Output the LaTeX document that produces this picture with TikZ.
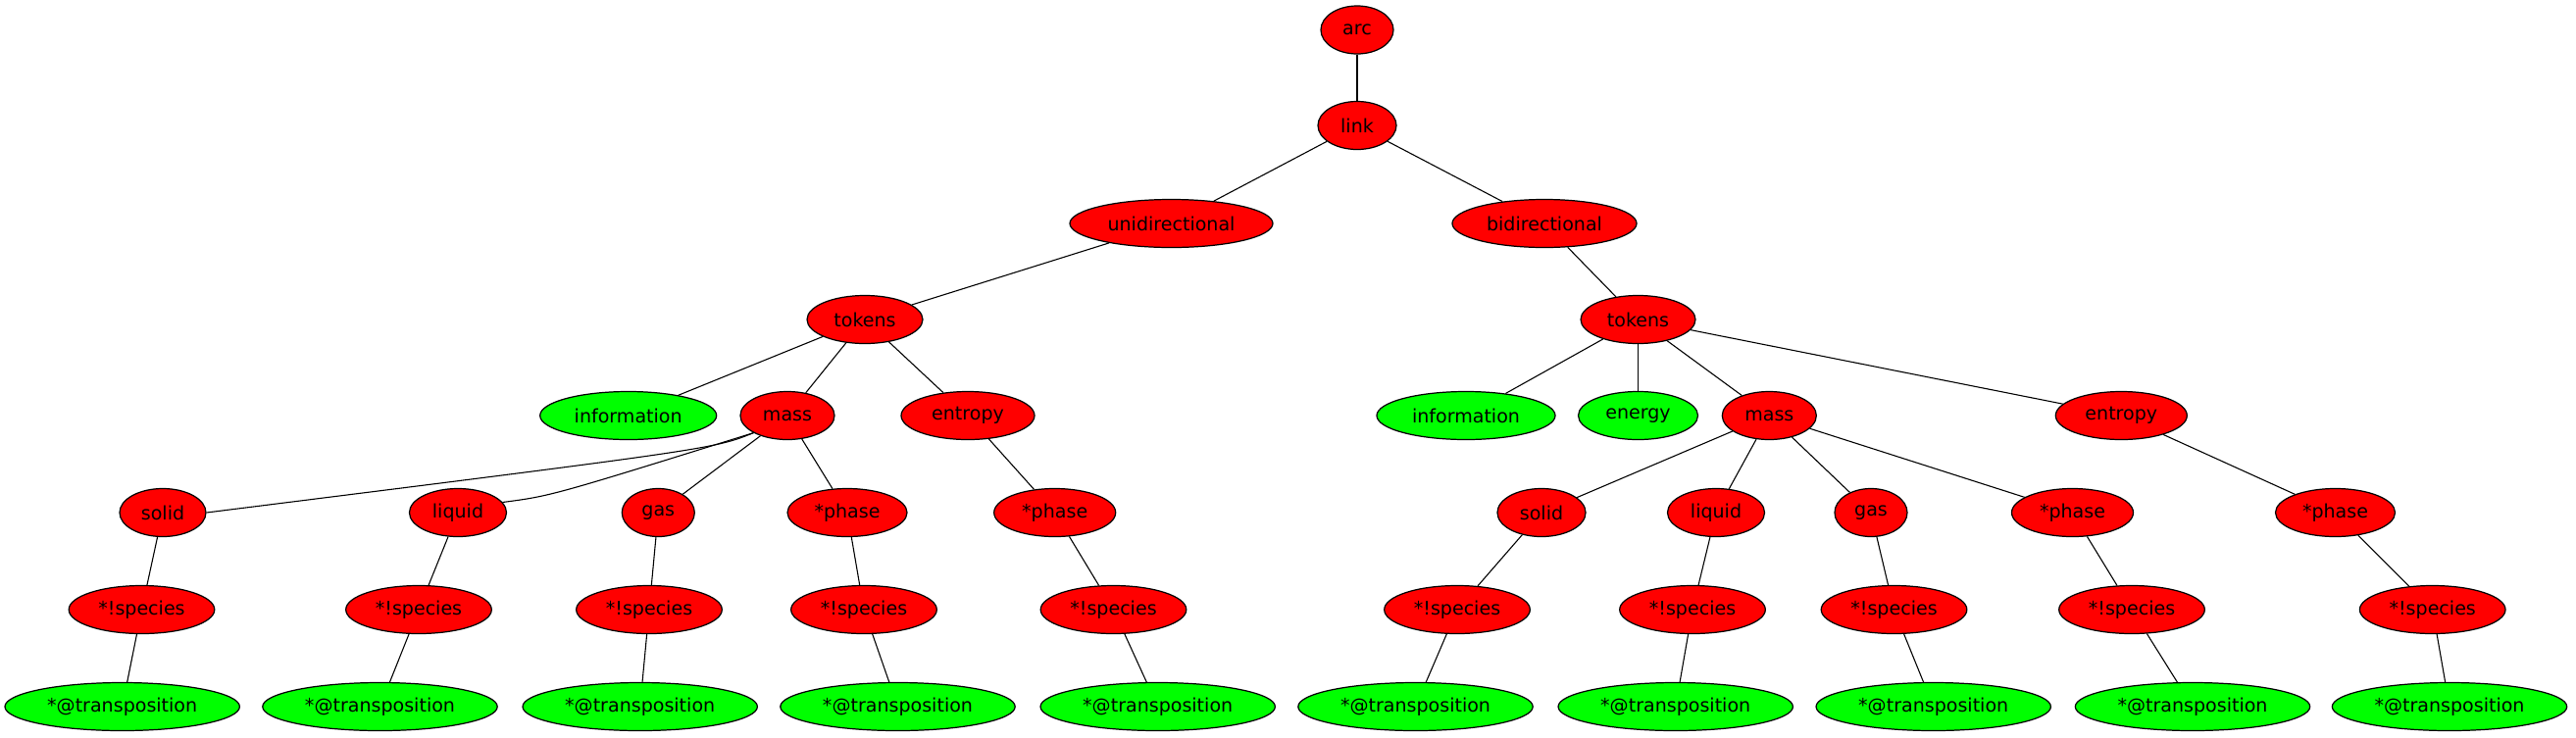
\documentclass[tikz,border=0pt]{standalone}
\usepackage{fontspec}
\setmainfont{DejaVu Sans}
\usetikzlibrary{shapes.geometric}
\def\pxu{0.7348pt}
\definecolor{nred}{HTML}{FF0000}
\definecolor{ngreen}{HTML}{00FF00}
\tikzset{
  gnode/.style={ellipse, draw=black, line width=0.9pt, inner sep=0pt,
    minimum height=49*\pxu, font=\fontsize{14}{17}\selectfont},
  rnode/.style={gnode, fill=nred},
  vnode/.style={gnode, fill=ngreen},
  w/.style={minimum width=2*#1*\pxu},
  edge/.style={draw=black, line width=0.8pt}
}
\begin{document}
\begin{tikzpicture}[x=0.7348pt, y=-0.7348pt]
\useasboundingbox (0,0) rectangle (2627,752);
% level 0-3
\node[rnode,w=37] (arc) at (1384,30.5) {arc};
\node[rnode,w=40] (link) at (1384,128) {link};
\node[rnode,w=103.5] (uni) at (1194.5,228) {unidirectional};
\node[rnode,w=94] (bi) at (1575,228) {bidirectional};
\node[rnode,w=59] (tokL) at (882,326) {tokens};
\node[rnode,w=58.5] (tokR) at (1670.5,326) {tokens};
% level 4
\node[vnode,w=90] (infoL) at (640.7,424) {information};
\node[rnode,w=48] (massL) at (803,424) {mass};
\node[rnode,w=68] (entL) at (987,424) {entropy};
\node[vnode,w=91] (infoR) at (1495,424) {information};
\node[vnode,w=61] (energy) at (1670.5,424) {energy};
\node[rnode,w=48] (massR) at (1804.3,424) {mass};
\node[rnode,w=67] (entR) at (2163.3,424) {entropy};
% level 5
\node[rnode,w=44] (solidL) at (166,523) {solid};
\node[rnode,w=49.5] (liquidL) at (467,523) {liquid};
\node[rnode,w=37] (gasL) at (671.3,523) {gas};
\node[rnode,w=61] (phaseLa) at (864,523) {*phase};
\node[rnode,w=62] (phaseLb) at (1075.7,523) {*phase};
\node[rnode,w=45] (solidR) at (1572,523) {solid};
\node[rnode,w=49.5] (liquidR) at (1750,523) {liquid};
\node[rnode,w=37] (gasR) at (1908,523) {gas};
\node[rnode,w=62] (phaseRa) at (2113.5,523) {*phase};
\node[rnode,w=61] (phaseRb) at (2381.5,523) {*phase};
% level 6
\node[rnode,w=74.3] (spLa) at (144.5,622) {*!species};
\node[rnode,w=74.3] (spLb) at (427,622) {*!species};
\node[rnode,w=74.3] (spLc) at (662,622) {*!species};
\node[rnode,w=74.3] (spLd) at (881,622) {*!species};
\node[rnode,w=74.3] (spLe) at (1135.5,622) {*!species};
\node[rnode,w=74.3] (spRa) at (1486,622) {*!species};
\node[rnode,w=74.3] (spRb) at (1726,622) {*!species};
\node[rnode,w=74.3] (spRc) at (1931.5,622) {*!species};
\node[rnode,w=74.3] (spRd) at (2174,622) {*!species};
\node[rnode,w=74.3] (spRe) at (2480.7,622) {*!species};
% level 7
\node[vnode,w=119.7] (trLa) at (124.7,721) {*@transposition};
\node[vnode,w=119.7] (trLb) at (387.5,721) {*@transposition};
\node[vnode,w=119.7] (trLc) at (652.7,721) {*@transposition};
\node[vnode,w=119.7] (trLd) at (915.5,721) {*@transposition};
\node[vnode,w=119.7] (trLe) at (1180.7,721) {*@transposition};
\node[vnode,w=119.7] (trRa) at (1443.5,721) {*@transposition};
\node[vnode,w=119.7] (trRb) at (1708.7,721) {*@transposition};
\node[vnode,w=119.7] (trRc) at (1971.7,721) {*@transposition};
\node[vnode,w=119.7] (trRd) at (2236,721) {*@transposition};
\node[vnode,w=119.7] (trRe) at (2498,721) {*@transposition};
% edges
\draw[edge] (arc) -- (link);
\draw[edge] (link) -- (uni);
\draw[edge] (link) -- (bi);
\draw[edge] (uni) -- (tokL);
\draw[edge] (bi) -- (tokR);
\draw[edge] (tokL) -- (infoL);
\draw[edge] (tokL) -- (massL);
\draw[edge] (tokL) -- (entL);
\draw[edge] (tokR) -- (infoR);
\draw[edge] (tokR) -- (energy);
\draw[edge] (tokR) -- (massR);
\draw[edge] (tokR) -- (entR);
\draw[edge] (massL.207) .. controls (728,458) .. (solidL.east);
\draw[edge] (massL.207) .. controls (562,506) .. (liquidL.13);
\draw[edge] (massL) -- (gasL);
\draw[edge] (massL) -- (phaseLa);
\draw[edge] (entL) -- (phaseLb);
\draw[edge] (massR) -- (solidR);
\draw[edge] (massR) -- (liquidR);
\draw[edge] (massR) -- (gasR);
\draw[edge] (massR) -- (phaseRa);
\draw[edge] (entR) -- (phaseRb);
\draw[edge] (solidL) -- (spLa);
\draw[edge] (liquidL) -- (spLb);
\draw[edge] (gasL) -- (spLc);
\draw[edge] (phaseLa) -- (spLd);
\draw[edge] (phaseLb) -- (spLe);
\draw[edge] (solidR) -- (spRa);
\draw[edge] (liquidR) -- (spRb);
\draw[edge] (gasR) -- (spRc);
\draw[edge] (phaseRa) -- (spRd);
\draw[edge] (phaseRb) -- (spRe);
\draw[edge] (spLa) -- (trLa);
\draw[edge] (spLb) -- (trLb);
\draw[edge] (spLc) -- (trLc);
\draw[edge] (spLd) -- (trLd);
\draw[edge] (spLe) -- (trLe);
\draw[edge] (spRa) -- (trRa);
\draw[edge] (spRb) -- (trRb);
\draw[edge] (spRc) -- (trRc);
\draw[edge] (spRd) -- (trRd);
\draw[edge] (spRe) -- (trRe);
\end{tikzpicture}
\end{document}
